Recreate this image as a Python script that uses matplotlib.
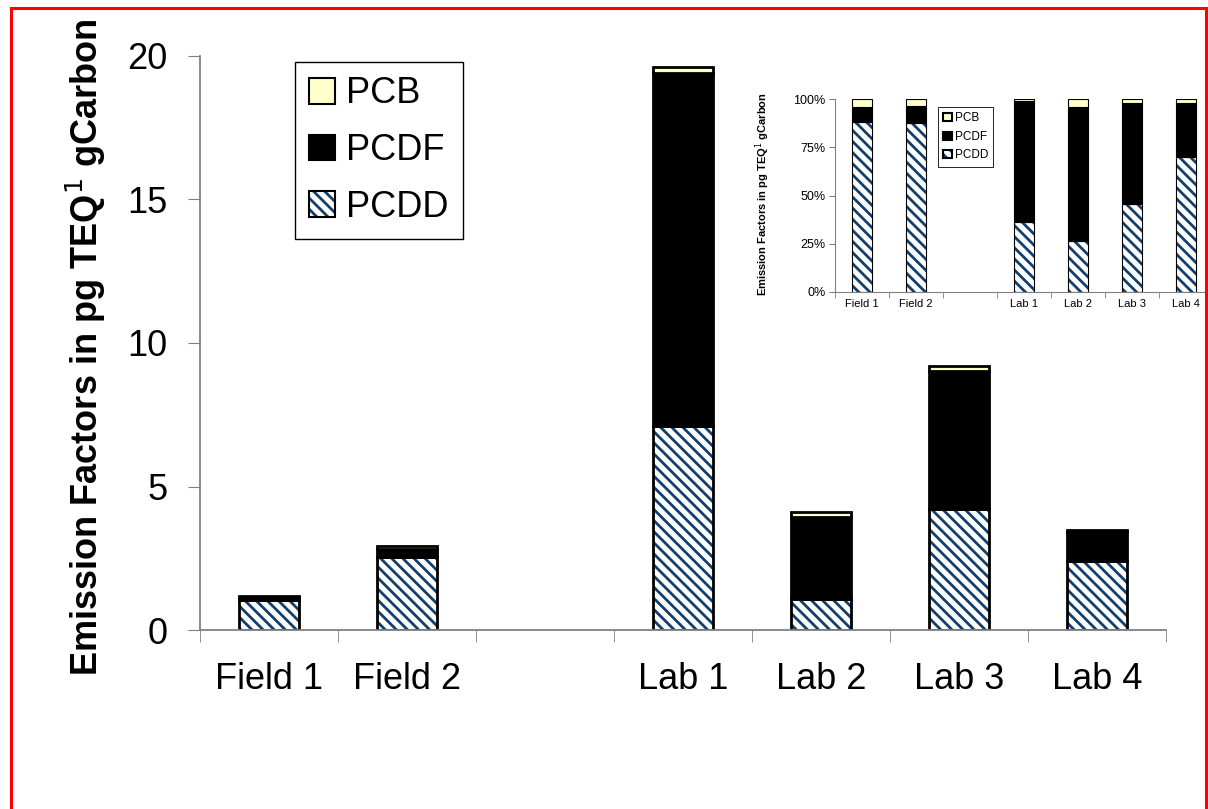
import matplotlib
matplotlib.use("Agg")
import matplotlib.pyplot as plt
import numpy as np
from matplotlib.patches import Patch, Rectangle
from matplotlib.legend_handler import HandlerTuple

plt.rcParams['font.family'] = ['Liberation Sans', 'DejaVu Sans']
plt.rcParams['hatch.linewidth'] = 2.0

categories = ["Field 1", "Field 2", "", "Lab 1", "Lab 2", "Lab 3", "Lab 4"]
pcdd = [1.03, 2.56, 0.0, 7.10, 1.08, 4.20, 2.42]
pcdf = [0.09, 0.27, 0.0, 12.30, 2.87, 4.82, 0.98]
pcb = [0.05, 0.10, 0.0, 0.20, 0.16, 0.18, 0.07]
y_ticks = [0, 5, 10, 15, 20]
pct_ticks = [0, 25, 50, 75, 100]

NAVY = '#123f6e'
YEL = '#ffffcc'
GRAY = '#808080'
HATCH = '\\\\\\'

pcdd_a = np.array(pcdd); pcdf_a = np.array(pcdf); pcb_a = np.array(pcb)
x = np.arange(len(categories))
present = (pcdd_a + pcdf_a + pcb_a) > 0

fig = plt.figure(figsize=(12.08, 8.09), dpi=100)


def draw(ax, vals_dd, vals_df, vals_b, width, elw):
    xs = x[present]
    d = vals_dd[present]; f = vals_df[present]; b = vals_b[present]
    ax.bar(xs, d, width, color='white', edgecolor=NAVY, hatch=HATCH, linewidth=0)
    ax.bar(xs, d, width, fill=False, edgecolor='black', linewidth=elw)
    ax.bar(xs, f, width, bottom=d, color='black', edgecolor='black', linewidth=elw)
    ax.bar(xs, b, width, bottom=d + f, color=YEL, edgecolor='black', linewidth=elw)


def style(ax, xfs, yfs, tl, xpad, ypad, ticks, fmt=None):
    for s in ['top', 'right']:
        ax.spines[s].set_visible(False)
    for s in ['left', 'bottom']:
        ax.spines[s].set_color(GRAY)
    ax.set_xlim(-0.5, len(categories) - 0.5)
    ax.set_xticks(x)
    ax.set_xticklabels(categories, fontsize=xfs)
    ax.set_xticks(np.arange(-0.5, len(categories)), minor=True)
    ax.tick_params(axis='x', which='major', length=0, pad=xpad)
    ax.tick_params(axis='x', which='minor', length=tl, color=GRAY, direction='out')
    ax.set_yticks(ticks)
    if fmt:
        ax.set_yticklabels([fmt(t) for t in ticks])
    ax.tick_params(axis='y', length=tl, color=GRAY, labelsize=yfs, pad=ypad)


# main axes
ax = fig.add_axes([200 / 1208, 1 - 630 / 809, 966 / 1208, 574 / 809])
draw(ax, pcdd_a, pcdf_a, pcb_a, 0.43, 2.0)
ax.set_ylim(0, 20)
style(ax, 26, 26, 8.6, 23, 15, y_ticks)
ax.spines['left'].set_linewidth(1.3)
ax.spines['bottom'].set_linewidth(1.3)

h_pcb = Patch(facecolor=YEL, edgecolor='black', linewidth=1.5)
h_pcdf = Patch(facecolor='black', edgecolor='black', linewidth=1.5)
h_dd1 = Patch(facecolor='white', edgecolor=NAVY, hatch=HATCH, linewidth=0)
h_dd2 = Patch(fill=False, edgecolor='black', linewidth=1.5)
leg = fig.legend([h_pcb, h_pcdf, (h_dd1, h_dd2)], ["PCB", "PCDF", "PCDD"],
                 handler_map={tuple: HandlerTuple(ndivide=1, pad=0)},
                 loc='upper left', bbox_to_anchor=(295 / 1208, 1 - 62 / 809),
                 fontsize=26, frameon=True, fancybox=False, framealpha=1,
                 handlelength=0.72, handleheight=0.72, handletextpad=0.28,
                 labelspacing=0.6, borderpad=0.4, borderaxespad=0)
leg.get_frame().set_edgecolor('black')
leg.get_frame().set_linewidth(1.0)

fig.text(86 / 1208, 1 - 347 / 809, "Emission Factors in pg TEQ$^{1}$ gCarbon",
         rotation=90, fontsize=26, fontweight='bold', ha='center', va='center')

# inset: percentage composition
tot = pcdd_a + pcdf_a + pcb_a
tot_safe = np.where(tot > 0, tot, 1)
ax2 = fig.add_axes([835 / 1208, 1 - 292 / 809, 378 / 1208, 193 / 809])
draw(ax2, pcdd_a / tot_safe * 100, pcdf_a / tot_safe * 100, pcb_a / tot_safe * 100, 0.38, 0.8)
ax2.set_ylim(0, 100)
style(ax2, 8, 9, 4, 5, 3, pct_ticks, fmt=lambda t: f"{t}%")
ax2.patch.set_alpha(0)
leg2 = ax2.legend([h_pcb, h_pcdf, (h_dd1, h_dd2)], ["PCB", "PCDF", "PCDD"],
                  handler_map={tuple: HandlerTuple(ndivide=1, pad=0)},
                  loc='upper left', bbox_to_anchor=((938 - 835) / 378, 1 - (107 - 99) / 193),
                  fontsize=8.5, frameon=True, fancybox=False, framealpha=1,
                  handlelength=0.7, handleheight=0.7, handletextpad=0.25,
                  labelspacing=0.55, borderpad=0.45, borderaxespad=0)
leg2.get_frame().set_edgecolor('black')
leg2.get_frame().set_linewidth(0.6)
fig.text(763 / 1208, 1 - 194 / 809, "Emission Factors in pg TEQ$^{1}$ gCarbon",
         rotation=90, fontsize=8, fontweight='bold', ha='center', va='center')

# red border
fig.patches.append(Rectangle((10.5 / 1208, -0.01), (1206 - 10.5) / 1208, 1 - 7.5 / 809 + 0.01,
                             transform=fig.transFigure, fill=False, edgecolor='red',
                             linewidth=2.2))

fig.savefig("out.png", dpi=100)
